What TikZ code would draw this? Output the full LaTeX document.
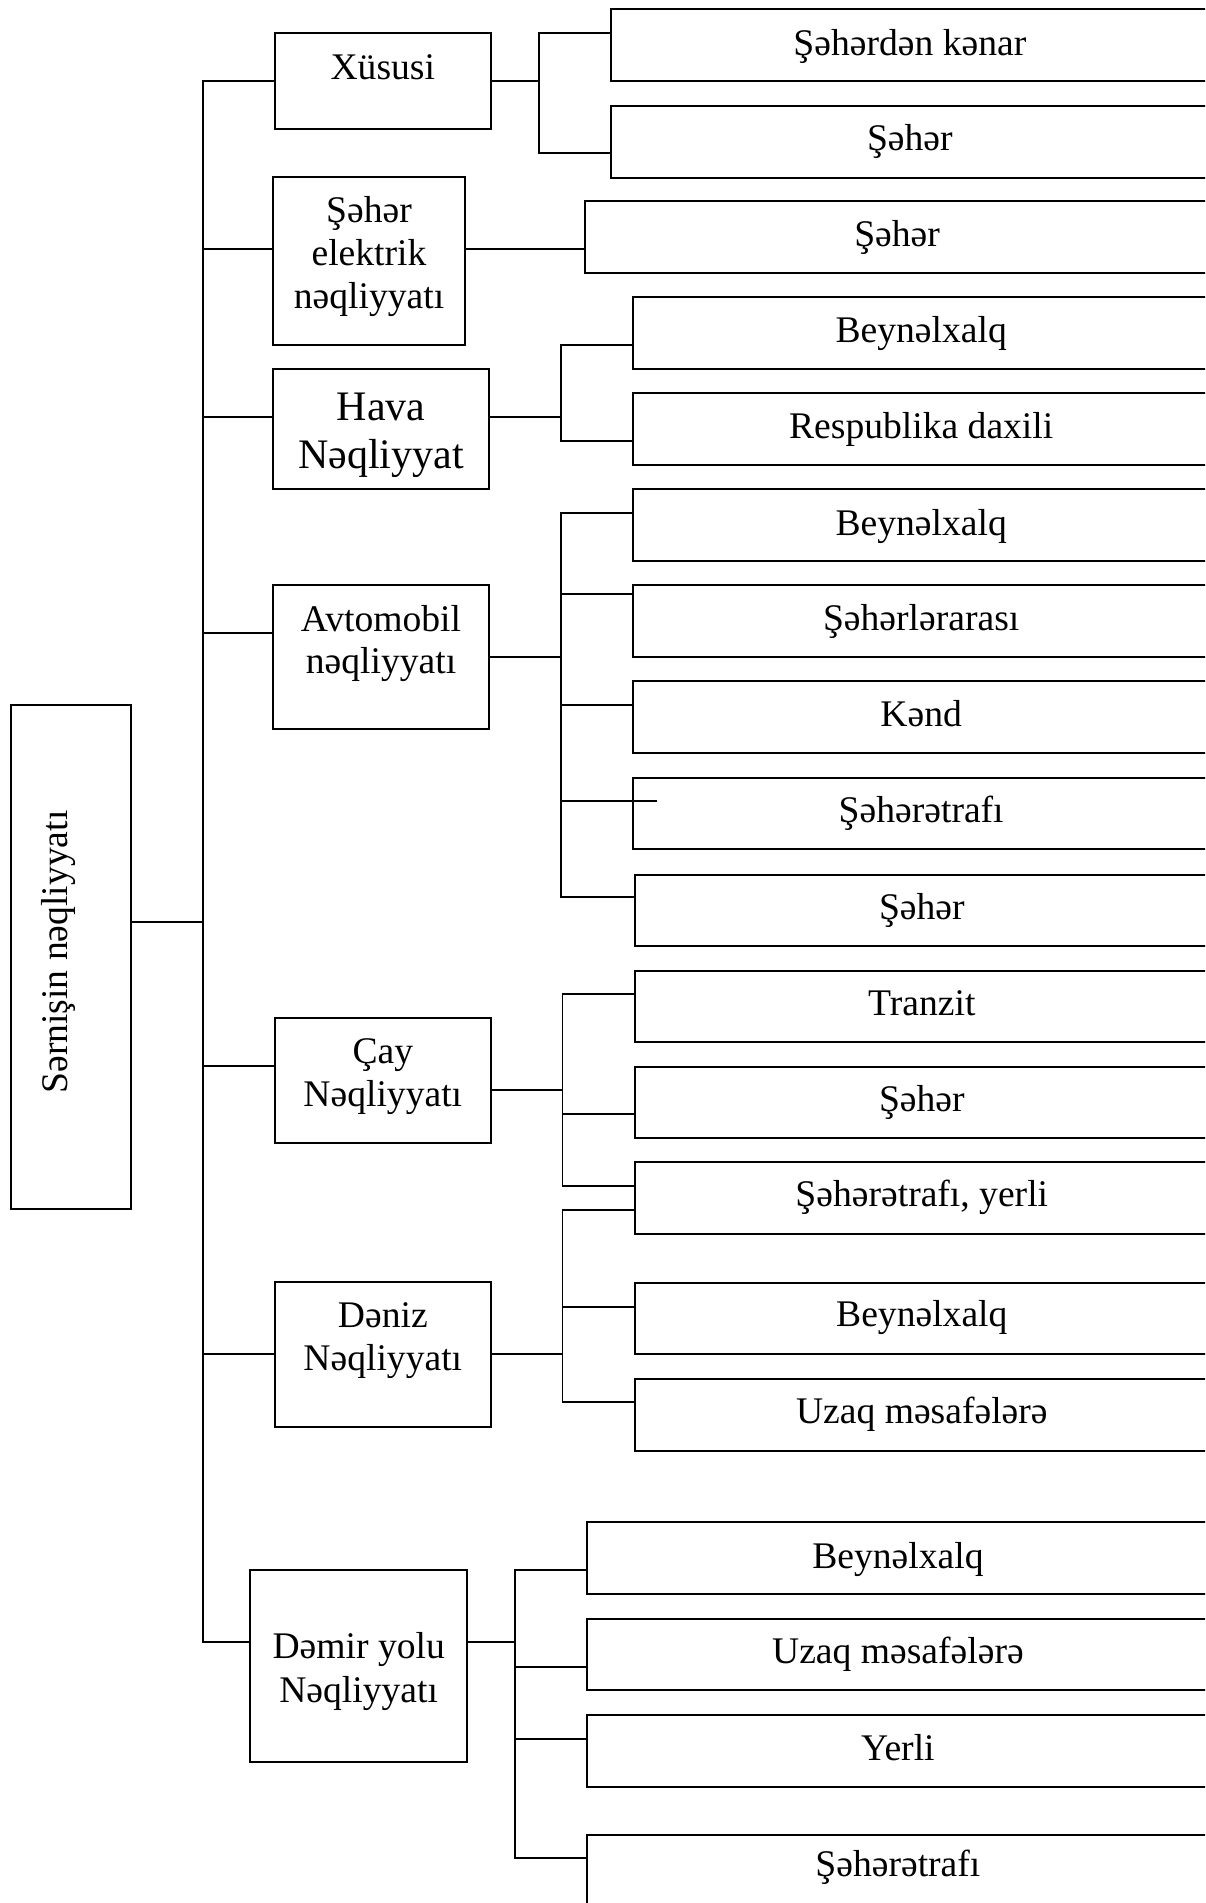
\documentclass[tikz,border=0pt]{standalone}
\usepackage{fontspec}
\setmainfont{Liberation Serif}
\newcommand\fsn{\fontsize{37.6pt}{43pt}\selectfont}
\newcommand\fsh{\fontsize{42pt}{48pt}\selectfont}
\tikzset{
  ln/.style={line width=1.9pt, draw=black},
  boxn/.style={draw=black, line width=1.9pt, rectangle, inner sep=0pt, outer sep=0pt, anchor=north west},
  lbl/.style={anchor=base, inner sep=0pt, font=\fsn},
  lblh/.style={anchor=base, inner sep=0pt, font=\fsh},
}
\newcommand\mkbox[5]{%
  \pgfmathsetmacro\bw{#4-#2}\pgfmathsetmacro\bh{#5-#3}%
  \node[boxn, minimum width=\bw pt, minimum height=\bh pt] (#1) at (#2,#3) {};}
\newcommand\leaf[6]{%
  \mkbox{#1}{#2}{#3}{1225}{#4}%
  \pgfmathsetmacro\cx{(#2+1205)/2+2}%
  \node[lbl] (#1t) at (\cx,#5) {#6};}
\begin{document}
\begin{tikzpicture}[x=1pt,y=-1pt]
\useasboundingbox (0,0) rectangle (1205,1903);
\clip (0,0) rectangle (1205,1903);
\fill[white] (0,0) rectangle (1205,1903);

% root
\mkbox{root}{10.7}{705.3}{130.8}{1209}
\node[lbl, rotate=90] (roott) at (67,952) {Sərnişin nəqliyyatı};

% level 2 boxes
\mkbox{b1}{274.7}{33}{490.9}{129}
\node[lbl] (b1t) at (382.8,79.3) {Xüsusi};
\mkbox{b2}{273}{177.3}{465}{345.3}
\node[lbl] (b2a) at (369,222.7) {Şəhər};
\node[lbl] (b2b) at (369,265) {elektrik};
\node[lbl] (b2c) at (369,308) {nəqliyyatı};
\mkbox{b3}{273}{369}{489}{489}
\node[lblh] (b3a) at (381,420) {Hava};
\node[lblh] (b3b) at (381,468) {Nəqliyyat};
\mkbox{b4}{273}{585.3}{489}{729}
\node[lbl] (b4a) at (381,631.7) {Avtomobil};
\node[lbl] (b4b) at (381,673.3) {nəqliyyatı};
\mkbox{b5}{274.7}{1018.3}{490.9}{1143.3}
\node[lbl] (b5a) at (382.8,1063.3) {Çay};
\node[lbl] (b5b) at (382.8,1106.7) {Nəqliyyatı};
\mkbox{b6}{274.7}{1282}{490.9}{1426.7}
\node[lbl] (b6a) at (382.8,1327.7) {Dəniz};
\node[lbl] (b6b) at (382.8,1370.7) {Nəqliyyatı};
\mkbox{b7}{250.2}{1570.3}{467.2}{1762.3}
\node[lbl] (b7a) at (358.7,1658.3) {Dəmir yolu};
\node[lbl] (b7b) at (358.7,1702.7) {Nəqliyyatı};

% leaves
\leaf{l1}{610.7}{9.3}{80.7}{55}{Şəhərdən kənar}
\leaf{l2}{610.7}{106}{178.3}{150.7}{Şəhər}
\leaf{l3}{585.2}{201}{273.3}{246}{Şəhər}
\leaf{l4}{633.4}{296.7}{369}{342.3}{Beynəlxalq}
\leaf{l5}{633.4}{393.3}{465}{438.3}{Respublika daxili}
\leaf{l6}{633.4}{489.3}{560.7}{535}{Beynəlxalq}
\leaf{l7}{633.4}{585.3}{657}{630.7}{Şəhərlərarası}
\leaf{l8}{633.4}{681.3}{753.3}{726.7}{Kənd}
\leaf{l9}{633.4}{777.7}{849}{822.3}{Şəhərətrafı}
\leaf{l10}{634.6}{874.7}{945.7}{919.3}{Şəhər}
\leaf{l11}{634.6}{970.7}{1042}{1015}{Tranzit}
\leaf{l12}{634.6}{1066.7}{1138.3}{1111.7}{Şəhər}
\leaf{l13}{634.6}{1162.3}{1234}{1206.7}{Şəhərətrafı, yerli}
\leaf{l14}{634.6}{1282.7}{1354.3}{1326.7}{Beynəlxalq}
\leaf{l15}{634.6}{1378.7}{1450.7}{1423.3}{Uzaq məsafələrə}
\leaf{l16}{586.8}{1522.3}{1594.3}{1568.3}{Beynəlxalq}
\leaf{l17}{586.8}{1618.7}{1690}{1663.3}{Uzaq məsafələrə}
\leaf{l18}{586.8}{1714.7}{1786.7}{1760}{Yerli}
\leaf{l19}{586.8}{1835}{1925}{1876.7}{Şəhərətrafı}

% trunk
\coordinate (t0) at (202.8,922);
\coordinate (t1) at (202.8,80.7);
\coordinate (t2) at (202.8,248.7);
\coordinate (t3) at (202.8,416.7);
\coordinate (t4) at (202.8,633);
\coordinate (t5) at (202.8,1066.3);
\coordinate (t6) at (202.8,1354.3);
\coordinate (t7) at (202.8,1642);
\draw[ln] (t0 -| root.east) -- (t0);
\draw[ln] (t1 -| b1.west) -- (t1) -- (t7) -- (t7 -| b7.west);
\draw[ln] (t2) -- (t2 -| b2.west);
\draw[ln] (t3) -- (t3 -| b3.west);
\draw[ln] (t4) -- (t4 -| b4.west);
\draw[ln] (t5) -- (t5 -| b5.west);
\draw[ln] (t6) -- (t6 -| b6.west);

% Xüsusi branch
\coordinate (k1) at (538.7,80.7);
\coordinate (k1a) at (538.7,33);
\coordinate (k1b) at (538.7,153);
\draw[ln] (k1 -| b1.east) -- (k1);
\draw[ln] (k1a -| l1.west) -- (k1a) -- (k1b) -- (k1b -| l2.west);

% Şəhər elektrik
\coordinate (k2) at (500,248.7);
\draw[ln] (k2 -| b2.east) -- (k2 -| l3.west);

% Hava
\coordinate (k3) at (561,416.7);
\coordinate (k3a) at (561,345.3);
\coordinate (k3b) at (561,441);
\draw[ln] (k3 -| b3.east) -- (k3);
\draw[ln] (k3a -| l4.west) -- (k3a) -- (k3b) -- (k3b -| l5.west);

% Avtomobil
\coordinate (k4) at (561,657.3);
\coordinate (k4a) at (561,513.3);
\coordinate (k4b) at (561,594);
\coordinate (k4c) at (561,705.3);
\coordinate (k4d) at (561,801.3);
\coordinate (k4e) at (561,897.3);
\coordinate (k4x) at (657,801.3);
\draw[ln] (k4 -| b4.east) -- (k4);
\draw[ln] (k4a -| l6.west) -- (k4a) -- (k4e) -- (k4e -| l10.west);
\draw[ln] (k4b) -- (k4b -| l7.west);
\draw[ln] (k4c) -- (k4c -| l8.west);
\draw[ln] (k4d) -- (k4x);

% Çay
\coordinate (k5) at (562.5,1090.3);
\coordinate (k5a) at (562.5,994);
\coordinate (k5b) at (562.5,1114.3);
\coordinate (k5c) at (562.5,1186);
\draw[ln] (k5 -| b5.east) -- (k5);
\draw[ln] (k5a -| l11.west) -- (k5a) -- (k5c) -- (k5c -| l13.west);
\draw[ln] (k5b) -- (k5b -| l12.west);

% Dəniz
\coordinate (k6) at (562.5,1354.3);
\coordinate (k6a) at (562.5,1210.3);
\coordinate (k6b) at (562.5,1306.7);
\coordinate (k6c) at (562.5,1402.3);
\draw[ln] (k6 -| b6.east) -- (k6);
\draw[ln] (k6a -| l13.west) -- (k6a) -- (k6c) -- (k6c -| l15.west);
\draw[ln] (k6b) -- (k6b -| l14.west);

% Dəmir yolu
\coordinate (k7) at (514.6,1642);
\coordinate (k7a) at (514.6,1570.3);
\coordinate (k7b) at (514.6,1666.7);
\coordinate (k7c) at (514.6,1738.7);
\coordinate (k7d) at (514.6,1858);
\draw[ln] (k7 -| b7.east) -- (k7);
\draw[ln] (k7a -| l16.west) -- (k7a) -- (k7d) -- (k7d -| l19.west);
\draw[ln] (k7b) -- (k7b -| l17.west);
\draw[ln] (k7c) -- (k7c -| l18.west);
\end{tikzpicture}
\end{document}
